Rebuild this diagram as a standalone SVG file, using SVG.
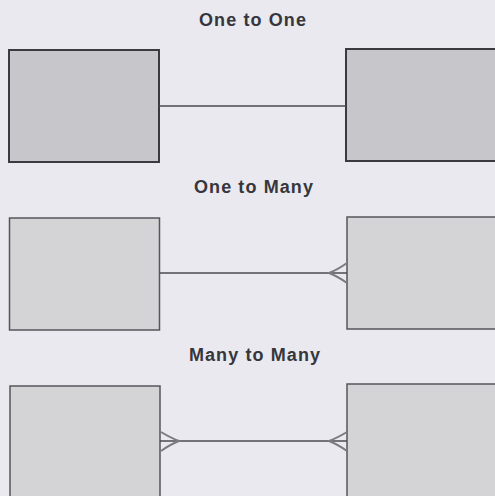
<svg xmlns="http://www.w3.org/2000/svg" width="495" height="496" viewBox="0 0 495 496">
<style>
.title{font-family:"Liberation Sans",Arial,sans-serif;font-weight:bold;font-size:18px;letter-spacing:1.1px;fill:#36363c;text-anchor:middle}
.box1{fill:#c6c6cb;stroke:#3a3a40;stroke-width:2}
.box2{fill:#d4d4d7;stroke:#55555b;stroke-width:1.5}
.line{stroke:#4a4a50;stroke-width:1.5;fill:none}
.crow{stroke:#7a7a80;stroke-width:2;fill:none}
</style>
<rect width="495" height="496" fill="#e9e9ef"/>
<text class="title" x="253" y="26">One to One</text>
<text class="title" x="254" y="193">One to Many</text>
<text class="title" x="255" y="361">Many to Many</text>
<g id="n1"><rect class="box1" x="9" y="50" width="150" height="112"/></g>
<g id="n2"><rect class="box1" x="346" y="49" width="152" height="112"/></g>
<g id="n3"><rect class="box2" x="9.5" y="218" width="150" height="112"/></g>
<g id="n4"><rect class="box2" x="347" y="217" width="152" height="112"/></g>
<g id="n5"><rect class="box2" x="10" y="386" width="150" height="115"/></g>
<g id="n6"><rect class="box2" x="347" y="384" width="152" height="117"/></g>
<g id="connectors">
<line class="line" x1="159" y1="106" x2="346" y2="106"/>
<line class="line" x1="160" y1="273" x2="347" y2="273"/>
<path class="crow" d="M347 263 Q337 270 329 273 Q337 276 347 283"/>
<line class="line" x1="160" y1="441" x2="347" y2="441"/>
<path class="crow" d="M161 432 Q171 438 179 441 Q171 444 161 451"/>
<path class="crow" d="M347 432 Q337 438 329 441 Q337 444 347 451"/>
</g>
</svg>
